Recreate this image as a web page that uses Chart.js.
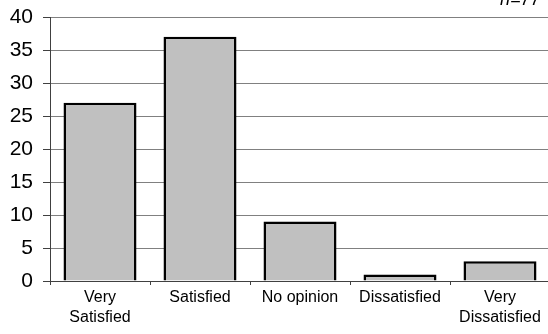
<!DOCTYPE html>
<html>
<head>
<meta charset="utf-8">
<script src="https://cdn.jsdelivr.net/npm/chart.js@4/dist/chart.umd.min.js"></script>
<style>
  html, body { margin: 0; padding: 0; overflow: hidden; background: #fff; }
  #wrap { position: relative; width: 560px; height: 334px; }
</style>
</head>
<body>
<div id="wrap"><canvas id="c" width="560" height="334"></canvas></div>
<script>
const categories = [['Very', 'Satisfied'], 'Satisfied', 'No opinion', 'Dissatisfied', ['Very', 'Dissatisfied']];
const responses = [27, 37, 9, 1, 3];
const sampleLabel = 'n=77';
const yMin = 0, yMax = 40, yStep = 5;

const FONT = "'Liberation Sans', Arial, sans-serif";

const noteplugin = {
  id: 'note',
  afterDraw(chart) {
    const ctx = chart.ctx;
    ctx.save();
    ctx.font = 'italic 18px ' + FONT;
    ctx.fillStyle = '#000';
    ctx.textAlign = 'left';
    ctx.textBaseline = 'alphabetic';
    ctx.fillText(sampleLabel, 500, 5);
    ctx.restore();
  }
};

new Chart(document.getElementById('c'), {
  type: 'bar',
  data: {
    labels: categories,
    datasets: [{
      data: responses,
      backgroundColor: '#c0c0c0',
      borderColor: '#000',
      borderWidth: 2.5,
      categoryPercentage: 0.73,
      barPercentage: 1
    }]
  },
  options: {
    responsive: false,
    animation: false,
    events: [],
    layout: { padding: { top: 17, right: 10, left: 0, bottom: 0 } },
    plugins: { legend: { display: false }, tooltip: { enabled: false } },
    scales: {
      x: {
        afterFit(s) { s.height = 53; s.paddingLeft = 0; s.paddingRight = 0; },
        grid: { display: true, drawOnChartArea: false, drawTicks: true, tickLength: 4, color: '#404040', offset: true },
        border: { color: '#404040', width: 1 },
        ticks: { color: '#000', font: { family: FONT, size: 16, lineHeight: 1.25 }, padding: 3, maxRotation: 0, autoSkip: false }
      },
      y: {
        min: yMin, max: yMax,
        afterFit(s) { s.width = 50; s.paddingTop = 0; s.paddingBottom = 0; },
        grid: { color: '#808080', lineWidth: 1, tickLength: 7, tickColor: '#404040' },
        border: { color: '#404040', width: 1 },
        ticks: { stepSize: yStep, color: '#000', font: { family: FONT, size: 21 }, padding: 10 }
      }
    }
  },
  plugins: [noteplugin]
});
</script>
</body>
</html>
